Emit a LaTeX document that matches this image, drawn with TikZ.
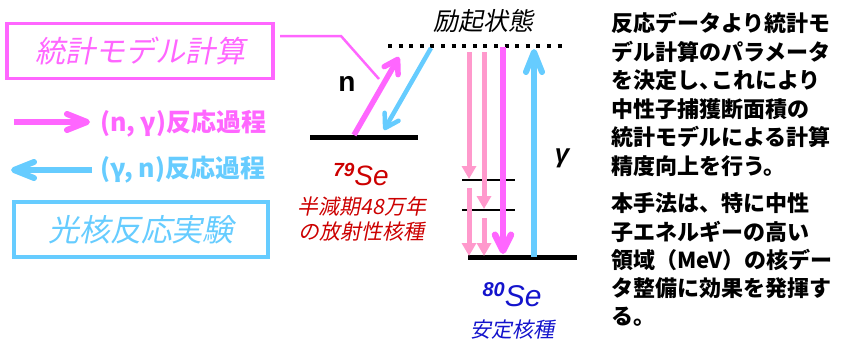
\documentclass[tikz,border=0pt]{standalone}
\usepackage{fontspec}
\setmainfont{Liberation Sans}
\newfontfamily\jp{Noto Sans CJK JP}
\newfontfamily\jpit{Noto Sans CJK JP}[FakeSlant=0.2]
\usetikzlibrary{arrows.meta}
\definecolor{mag}{HTML}{FF66FF}
\definecolor{lpink}{HTML}{FF99CC}
\definecolor{lblue}{HTML}{66CCFF}
\definecolor{dred}{HTML}{CC0000}
\definecolor{dblue}{HTML}{1414CC}
\newcommand\myfs[1]{\fontsize{#1}{#1}\selectfont}
\tikzset{
  txt/.style={inner sep=0pt, outer sep=0pt},
  para/.style={txt, anchor=base west, font=\jp\bfseries\myfs{22}},
  framebox/.style={draw, line width=3.5pt, inner sep=0pt, minimum height=55pt},
  level/.style={line width=5pt},
  sublevel/.style={line width=1.5pt},
  openhead/.style 2 args={-{Straight Barb[length=#1,width=16pt,line width=#2,round]}},
  trihead/.style={-{Triangle[length=13pt,width=14pt]}},
}
\begin{document}
\begin{tikzpicture}[x=1pt,y=-1pt]
\useasboundingbox (0,0) rectangle (841,340);

% boxes
\node[framebox, mag, minimum width=266pt, font=\jpit\myfs{30}] (model) at (140,51) {統計モデル計算};
\node[framebox, lblue, minimum width=254pt, font=\jpit\myfs{31}] (photo) at (141,229.5) {光核反応実験};

% legend
\coordinate (lp0) at (14,122); \coordinate (lp1) at (90,122);
\draw[mag, line width=6pt, openhead={20pt}{6pt}] (lp0) -- (lp1);
\node[txt, anchor=west, mag, font=\jp\bfseries\myfs{25}] (lpt) at (100,124) {(n, γ)反応過程};
\coordinate (lb0) at (92,170); \coordinate (lb1) at (11,170);
\draw[lblue, line width=6pt, openhead={20pt}{6pt}] (lb0) -- (lb1);
\node[txt, anchor=west, lblue, font=\jp\bfseries\myfs{25}] (lbt) at (100,170) {(γ, n)反応過程};

% levels
\coordinate (g79a) at (310,137); \coordinate (g79b) at (418,137);
\draw[level] (g79a) -- (g79b);
\coordinate (exa) at (388,46); \coordinate (exb) at (568,46);
\draw[line width=4pt, dash pattern=on 4pt off 6.6pt] (exa) -- (exb);
\coordinate (g80a) at (468,257); \coordinate (g80b) at (577,257);
\draw[level] (g80a) -- (g80b);
\coordinate (m1a) at (462,180); \coordinate (m1b) at (515,180);
\draw[sublevel] (m1a) -- (m1b);
\coordinate (m2a) at (462,210); \coordinate (m2b) at (515,210);
\draw[sublevel] (m2a) -- (m2b);

% connector from model box
\coordinate (c0) at (280,36); \coordinate (c1) at (341,36); \coordinate (c2) at (379,79);
\draw[mag, line width=2.5pt] (c0) -- (c1) -- (c2);

% n capture and photo-neutron arrows
\coordinate (n0) at (354,135); \coordinate (n1) at (399,57);
\draw[mag, line width=5.5pt, openhead={13pt}{5.5pt}] (n0) -- (n1);
\coordinate (b0) at (431,48); \coordinate (b1) at (384,130);
\draw[lblue, line width=4.5pt, openhead={13pt}{4.5pt}] (b0) -- (b1);

% gamma cascades
\coordinate (p1a) at (469,52); \coordinate (p1b) at (469,179);
\draw[lpink, line width=5pt, trihead] (p1a) -- (p1b);
\coordinate (p1c) at (469,188); \coordinate (p1d) at (469,256);
\draw[lpink, line width=5pt, trihead] (p1c) -- (p1d);
\coordinate (p2a) at (484,52); \coordinate (p2b) at (484,209);
\draw[lpink, line width=5pt, trihead] (p2a) -- (p2b);
\coordinate (p2c) at (484,218); \coordinate (p2d) at (484,256);
\draw[lpink, line width=5pt, trihead] (p2c) -- (p2d);
\coordinate (p3a) at (503,47); \coordinate (p3b) at (503,254);
\draw[mag, line width=6.5pt, openhead={16pt}{6.5pt}] (p3a) -- (p3b);
\coordinate (u0) at (534,257); \coordinate (u1) at (534,49);
\draw[lblue, line width=6pt, openhead={20pt}{6pt}] (u0) -- (u1);

% labels
\node[txt, font=\jpit\myfs{25}] (exl) at (483,21) {励起状態};
\node[txt, font=\bfseries\myfs{28}] (nl) at (347,84) {n};
\node[txt, font=\bfseries\itshape\myfs{26}] (gl) at (562,158) {γ};
\node[txt, anchor=base, dred, font=\itshape\myfs{28}] (se79) at (361,185)
  {\raisebox{9pt}{\bfseries\myfs{19}79}Se};
\node[txt, dred, font=\jpit\myfs{21}] (se79a) at (362,207) {半減期48万年};
\node[txt, dred, font=\jpit\myfs{21}] (se79b) at (361,232) {の放射性核種};
\node[txt, anchor=base, dblue, font=\itshape\myfs{30}] (se80) at (512,306)
  {\raisebox{10pt}{\bfseries\myfs{20}80}Se};
\node[txt, dblue, font=\jpit\myfs{21}] (se80a) at (512,330) {安定核種};

% right paragraphs
\node[para] (r1) at (611,31.5) {反応データより統計モ};
\node[para] (r2) at (611,60) {デル計算のパラメータ};
\node[para] (r3) at (611,88.5) {を決定し、\kern-0.45em これにより};
\node[para] (r4) at (611,117) {中性子捕獲断面積の};
\node[para] (r5) at (611,145.5) {統計モデルによる計算};
\node[para] (r6) at (611,174) {精度向上を行う。};
\node[para] (s1) at (611,211.5) {本手法は、特に中性};
\node[para] (s2) at (611,240) {子エネルギーの高い};
\node[para] (s3) at (611,268.5) {領域（MeV）の核デー};
\node[para] (s4) at (611,296.5) {タ整備に効果を発揮す};
\node[para] (s5) at (611,324) {る。};
\end{tikzpicture}
\end{document}
